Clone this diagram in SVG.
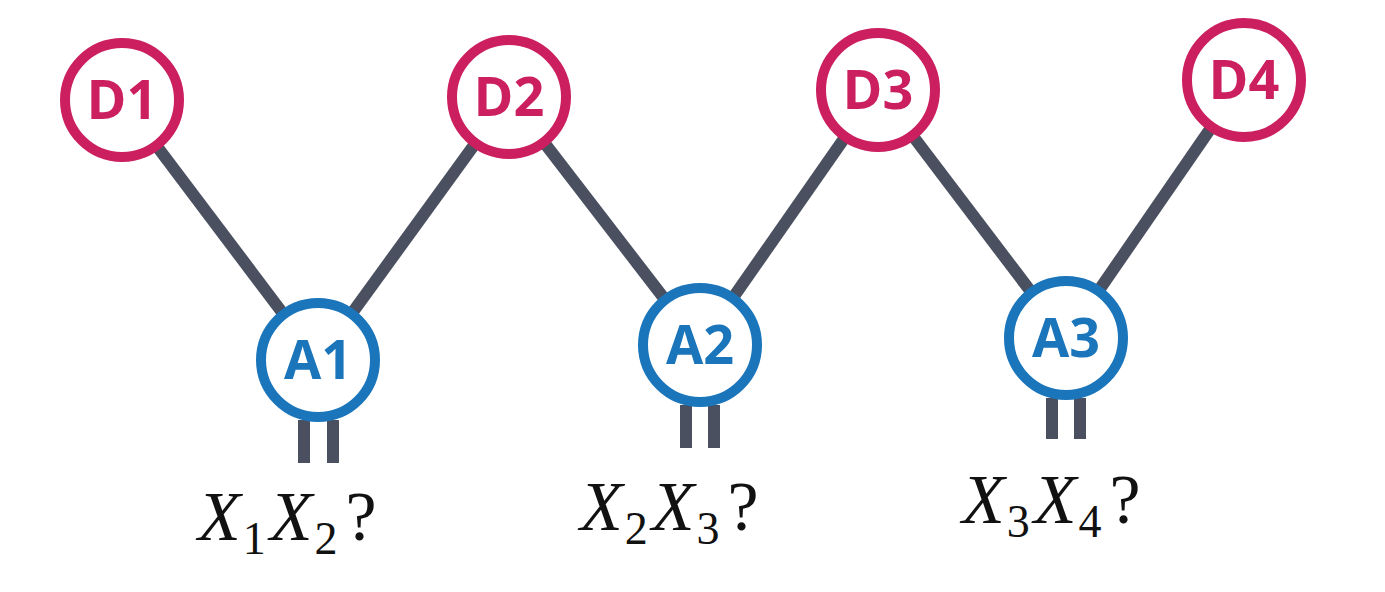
<svg xmlns="http://www.w3.org/2000/svg" width="1385" height="592" viewBox="0 0 1385 592">
<style>
.d{fill:#fff;stroke:#cc1f5f;stroke-width:10}
.a{fill:#fff;stroke:#1a75bb;stroke-width:10}
.dt{fill:#cc1f5f;font:bold 54px "Open Sans",sans-serif;text-anchor:middle}
.at{fill:#1a75bb;font:bold 54px "Open Sans",sans-serif;text-anchor:middle}
.c line{stroke:#4a5060;stroke-width:12}
.m{font:italic 70px "Liberation Serif",serif;fill:#111}
.s{font-size:46px;font-style:normal}
</style>
<rect width="1385" height="592" fill="#fff"/>
<g class="c" id="connectors">
<line x1="122" y1="100" x2="318" y2="360"/><line x1="509" y1="97" x2="318" y2="360"/>
<line x1="509" y1="97" x2="700" y2="345"/><line x1="878" y1="90" x2="700" y2="345"/>
<line x1="878" y1="90" x2="1066" y2="338"/><line x1="1244" y1="80" x2="1066" y2="338"/>
<line x1="304" y1="420" x2="304" y2="463"/><line x1="333" y1="420" x2="333" y2="463"/>
<line x1="686" y1="405" x2="686" y2="448"/><line x1="714" y1="405" x2="714" y2="448"/>
<line x1="1052" y1="398" x2="1052" y2="439"/><line x1="1080" y1="398" x2="1080" y2="439"/>
</g>
<g id="D1"><circle class="d" cx="122" cy="100" r="57"/><text class="dt" x="122" y="119">D1</text></g>
<g id="D2"><circle class="d" cx="509" cy="97" r="57"/><text class="dt" x="509" y="116">D2</text></g>
<g id="D3"><circle class="d" cx="878" cy="90" r="57"/><text class="dt" x="878" y="109">D3</text></g>
<g id="D4"><circle class="d" cx="1244" cy="80" r="57"/><text class="dt" x="1244" y="99">D4</text></g>
<g id="A1"><circle class="a" cx="318" cy="360" r="57"/><text class="at" x="318" y="379">A1</text></g>
<g id="A2"><circle class="a" cx="700" cy="345" r="57"/><text class="at" x="700" y="364">A2</text></g>
<g id="A3"><circle class="a" cx="1066" cy="338" r="57"/><text class="at" x="1066" y="357">A3</text></g>
<text class="m" x="198" y="540">X<tspan class="s" dx="2" dy="14">1</tspan><tspan dx="4" dy="-14">X</tspan><tspan class="s" dx="2" dy="14">2</tspan><tspan dx="8" dy="-14" font-style="normal">?</tspan></text>
<text class="m" x="580" y="530">X<tspan class="s" dx="2" dy="14">2</tspan><tspan dx="4" dy="-14">X</tspan><tspan class="s" dx="2" dy="14">3</tspan><tspan dx="8" dy="-14" font-style="normal">?</tspan></text>
<text class="m" x="962" y="523">X<tspan class="s" dx="2" dy="14">3</tspan><tspan dx="4" dy="-14">X</tspan><tspan class="s" dx="2" dy="14">4</tspan><tspan dx="8" dy="-14" font-style="normal">?</tspan></text>
</svg>
